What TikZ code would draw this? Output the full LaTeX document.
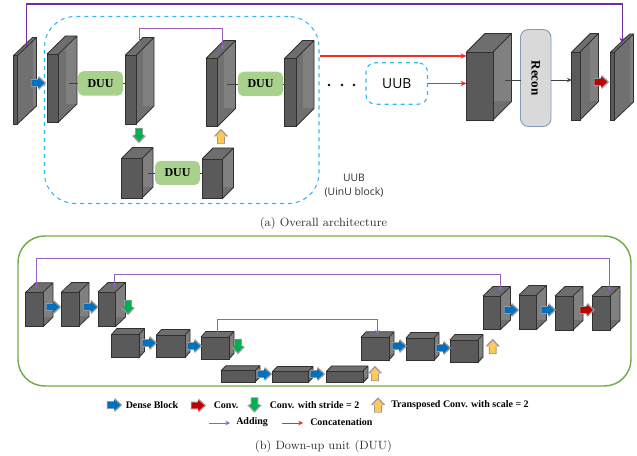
\documentclass[tikz,border=0pt]{standalone}
\usepackage{fontspec}
\usetikzlibrary{arrows.meta,calc}
\newfontfamily\serfont{Liberation Serif}
\newfontfamily\sanfont{Open Sans}
\definecolor{cfront}{HTML}{5A5A5A}
\definecolor{cside}{HTML}{707070}
\definecolor{ctop}{HTML}{6E6E6E}
\definecolor{cback}{HTML}{808080}
\definecolor{cedge}{HTML}{303030}
\definecolor{addp}{HTML}{7030A0}
\definecolor{addl}{HTML}{9562C0}
\definecolor{dense}{HTML}{0070C0}
\definecolor{convr}{HTML}{C00000}
\definecolor{convg}{HTML}{00B050}
\definecolor{convy}{HTML}{FFC85A}
\definecolor{duug}{HTML}{A9D18E}
\definecolor{frameb}{HTML}{2DB5EE}
\definecolor{frameg}{HTML}{70AD47}
\definecolor{capt}{HTML}{303030}
\definecolor{reconedge}{HTML}{7F9DBB}
\definecolor{redl}{HTML}{F52A2A}
\tikzset{
  pxsize/.style 2 args={minimum width=#1*0.75pt,minimum height=#2*0.75pt,inner sep=0pt,outer sep=0pt},
  cubefront/.style={draw=cedge,fill=cfront,line width=0.7pt,rectangle,inner sep=0pt,outer sep=0pt},
  duubox/.style={fill=duug,rounded corners=4pt,font=\serfont\bfseries\fontsize{9}{10}\selectfont},
  thinlink/.style={draw=black!75,line width=0.45pt},
  addbig/.style={draw=addp,line width=0.8pt,-{Stealth[length=4pt,width=4pt]}},
  addsmall/.style={draw=addl,line width=0.6pt,-{Stealth[length=3.5pt,width=3.5pt]}},
  redlink/.style={draw=redl,line width=0.9pt,-{Stealth[length=4.5pt,width=4pt]}},
  redthin/.style={draw=redl,line width=0.6pt,-{Stealth[length=3.5pt,width=3.5pt]}},
  legendtext/.style={font=\serfont\bfseries\fontsize{7.5}{9}\selectfont,anchor=west,inner sep=0pt},
  capnode/.style={font=\fontsize{9}{10}\selectfont,text=capt,inner sep=0pt},
}
% name, x, y, w, h, dx, dy  (pixels)
\newcommand\cube[7]{%
  \pgfmathsetmacro\xb{#2+#4}\pgfmathsetmacro\yb{#3+#5}%
  \pgfmathsetmacro\xc{#2+#6}\pgfmathsetmacro\yc{#3-#7}%
  \pgfmathsetmacro\xd{#2+#4+#6}\pgfmathsetmacro\yd{#3+#5-#7}%
  \fill[ctop] (#2,#3) -- (\xc,\yc) -- (\xd,\yc) -- (\xb,#3) -- cycle;
  \fill[cside] (\xb,#3) -- (\xd,\yc) -- (\xd,\yd) -- (\xb,\yb) -- cycle;
  \begin{scope}
    \clip (\xb,#3) -- (\xd,\yc) -- (\xd,\yd) -- (\xb,\yb) -- cycle;
    \fill[cback] (\xc,\yc) rectangle (\xd,\yd);
  \end{scope}
  \draw[cedge,line width=0.6pt,line join=round] (#2,#3) -- (\xc,\yc) -- (\xd,\yc) -- (\xd,\yd) -- (\xb,\yb) (\xd,\yc) -- (\xb,#3);
  \node[cubefront,pxsize={#4}{#5},anchor=north west] (#1) at (#2,#3) {};
  \coordinate (#1 top) at ({#2+0.5*#4+0.5*#6},{#3-0.5*#7});
  \coordinate (#1 side) at ({\xb+0.55*#6},{#3+0.5*#5-0.5*#7});
}
% x, y, colour, rotation
\newcommand\fatarrow[4]{%
  \begin{scope}[shift={(#1,#2)},rotate=#4]
    \fill[black!40] (-7.2,-3.9) -- (0.6,-3.9) -- (0.6,-7.2) -- (8.2,0) -- (0.6,7.2) -- (0.6,3.9) -- (-7.2,3.9) -- cycle;
    \fill[#3] (-6.4,-2.9) -- (0,-2.9) -- (0,-5.6) -- (6.2,0) -- (0,5.6) -- (0,2.9) -- (-6.4,2.9) -- cycle;
  \end{scope}
}
\begin{document}
\begin{tikzpicture}[x=0.75pt,y=-0.75pt]
\useasboundingbox (0,0) rectangle (637,456);

% ---------- (a) frame
\node[pxsize={274.5}{187},draw=frameb,dashed,line width=0.8pt,rounded corners=23pt] (frame) at (181.75,110) {};

% cubes
\cube{a}{13.5}{55.5}{4}{68.5}{19}{18}
\cube{b}{47}{54}{11.5}{68}{18.5}{18}
\cube{c}{125}{55.5}{11}{68.5}{18}{18}
\cube{d}{206}{58.5}{11.5}{68}{18}{18}
\cube{e}{284.5}{58.5}{11.5}{68}{18}{18}
\cube{f}{121.5}{158.5}{20.5}{39.5}{11}{11}
\cube{g}{202}{159}{20.5}{39.5}{11}{11}

\node[duubox,pxsize={45}{24.5}] (duua) at (100.5,83.5) {DUU};
\node[duubox,pxsize={45}{24.5}] (duub) at (260.5,84) {DUU};
\node[duubox,pxsize={45}{24}] (duuc) at (177.5,173) {DUU};

\draw[thinlink] (duua.west -| b side) -- (duua.west);
\draw[thinlink] (duua.east) -- (duua.east -| c.west);
\draw[thinlink] (duub.west -| d side) -- (duub.west);
\draw[thinlink] (duub.east) -- (duub.east -| e.west);
\draw[thinlink] (duuc.west -| f side) -- (duuc.west);
\draw[thinlink] (duuc.east) -- (duuc.east -| g.west);

\coordinate (ytopa) at (0,4);
\coordinate (yinner) at (0,28);
\draw[addsmall] (c top) -- (c top |- yinner) -- ([xshift=1.3pt]d top |- yinner) -- ([xshift=1.3pt]d top);

\fatarrow{38}{83}{dense}{0}
\fatarrow{139}{135}{convg}{-90}
\fatarrow{221}{137}{convy}{90}

% right part of (a)
\cube{h}{466.5}{52}{26.5}{68}{18.5}{18.5}
\cube{i}{571.7}{52}{8.3}{68}{18.5}{18.5}
\cube{j}{610.7}{52}{3.8}{68}{19}{18}
\draw[addbig] ([xshift=1.1pt]a top) -- ([xshift=1.1pt]a top |- ytopa) -- (j top |- ytopa) -- (j top);

\node[draw=frameb,dashed,line width=0.8pt,rounded corners=7pt,pxsize={61.5}{41.5},font=\sanfont\fontsize{10.4}{12}\selectfont] (uub) at (396.75,83.5) {UUB};
\node[pxsize={30.5}{97},draw=reconedge,fill=black!15,line width=0.7pt,rounded corners=6pt] (recon) at (535.75,78) {};
\node[rotate=-90,font=\serfont\bfseries\fontsize{9.8}{11}\selectfont,inner sep=0pt] (recont) at (recon.center) {Recon};

\coordinate (redstart) at (319.5,56);
\draw[redlink] (redstart) -- (redstart -| h.west);
\draw[redlink] (uub.east) -- (uub.east -| h.west);
\coordinate (hout) at (505,80);
\draw[thinlink] (hout) -- (hout -| recon.west);
\draw[thinlink,-{Stealth[length=3.5pt,width=3.2pt]}] (hout -| recon.east) -- (hout -| i.west);
\fatarrow{601}{82}{convr}{0}

\fill (329,85) circle (1.4) (342,85) circle (1.4) (354,85) circle (1.4);

\node[font=\sanfont\fontsize{7.8}{10.4}\selectfont,align=center,text=capt,inner sep=0pt] (uublabel) at (354,186) {UUB\\(UinU block)};
\node[capnode] (capa) at (323.5,223) {(a) Overall architecture};

% ---------- (b)
\node[pxsize={613}{150},draw=frameg,line width=1.1pt,rounded corners=20pt] (frameb) at (324.5,311) {};

\cube{ka}{25.7}{292.3}{17.3}{34.4}{10}{9.5}
\cube{kb}{61.5}{292}{17.5}{34}{10}{9.5}
\cube{kc}{98}{292}{17.5}{34.5}{10}{9.5}
\cube{la}{111.5}{334.5}{27.5}{23}{5.5}{6}
\cube{lb}{156.5}{335}{28.5}{22.5}{5}{5.5}
\cube{lc}{201}{337}{28}{22}{5}{5.5}
\cube{ma}{221}{370.7}{34}{11.3}{5}{5}
\cube{mb}{272.5}{371.5}{35.5}{11}{5}{5}
\cube{mc}{326.7}{371}{36.3}{11.5}{5}{5}
\cube{na}{361}{337.3}{28}{22.7}{5}{5.5}
\cube{nb}{406}{338}{28}{22.5}{5}{5.5}
\cube{nc}{450}{340}{28}{22.5}{5}{5.5}
\cube{pa}{483}{296}{17.5}{33.5}{10}{9.5}
\cube{pb}{519}{295}{17.5}{34.5}{10}{9.5}
\cube{pc}{555}{296}{18}{34}{10}{9.5}
\cube{pd}{592}{296}{18}{34}{10}{9.5}

\coordinate (yl1) at (0,258.5);
\coordinate (yl2) at (0,274.3);
\coordinate (yl3) at (0,319);
\draw[addsmall] ([xshift=-2.5pt]ka top) -- ([xshift=-2.5pt]ka top |- yl1) -- ([xshift=2.7pt]pd top |- yl1) -- ([xshift=2.7pt]pd top);
\draw[addsmall] ([xshift=2pt]kc top) -- ([xshift=2pt]kc top |- yl2) -- ([xshift=2.6pt]pa top |- yl2) -- ([xshift=2.6pt]pa top);
\draw[addsmall] (lc top) -- (lc top |- yl3) -- (na top |- yl3) -- (na top);

\fatarrow{53}{307}{dense}{0}
\fatarrow{90.5}{307}{dense}{0}
\fatarrow{128}{307}{convg}{-90}
\fatarrow{149}{343}{dense}{0}
\fatarrow{194}{346}{dense}{0}
\fatarrow{238}{346}{convg}{-90}
\fatarrow{264}{374}{dense}{0}
\fatarrow{317}{374}{dense}{0}
\fatarrow{375}{374}{convy}{90}
\fatarrow{399}{346}{dense}{0}
\fatarrow{443}{348}{dense}{0}
\fatarrow{492.7}{347}{convy}{90}
\fatarrow{511}{310}{dense}{0}
\fatarrow{548}{310}{dense}{0}
\fatarrow{586.7}{310}{convr}{0}

% legend
\fatarrow{114}{405}{dense}{0}
\node[legendtext] (l1) at (125.5,405.5) {Dense Block};
\fatarrow{198}{405.5}{convr}{0}
\node[legendtext] (l2) at (213.5,405.5) {Conv.};
\fatarrow{254.5}{404.5}{convg}{-90}
\node[legendtext] (l3) at (269.5,405.5) {Conv. with stride = 2};
\fatarrow{378}{405.5}{convy}{90}
\node[legendtext] (l4) at (391,405.5) {Transposed Conv. with scale = 2};
\coordinate (p1) at (209,423);
\coordinate (p2) at (230,423);
\coordinate (q1) at (282,423);
\coordinate (q2) at (303,423);
\draw[addsmall] (p1) -- (p2);
\node[legendtext] (l5) at (236,422) {Adding};
\draw[redthin] (q1) -- (q2);
\node[legendtext] (l6) at (310,422.5) {Concatenation};
\node[capnode] (capb) at (323.5,446) {(b) Down-up unit (DUU)};
\end{tikzpicture}
\end{document}
